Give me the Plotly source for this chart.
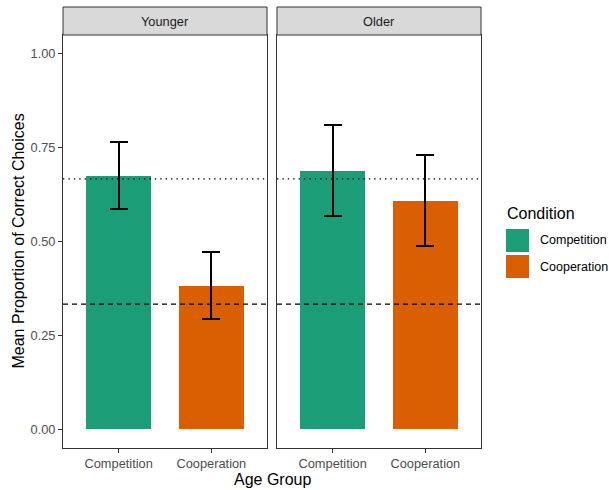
import plotly.graph_objects as go

# ---- data ----
groups = ["Younger", "Older"]
conditions = ["Competition", "Cooperation"]
younger_means = [0.675, 0.382]
younger_lower = [0.586, 0.293]
younger_upper = [0.766, 0.471]
older_means = [0.688, 0.609]
older_lower = [0.568, 0.489]
older_upper = [0.810, 0.731]
chance_dotted = 2 / 3
chance_dashed = 1 / 3
y_ticks = [0, 0.25, 0.5, 0.75, 1.0]
y_tick_labels = ["0.00", "0.25", "0.50", "0.75", "1.00"]
colors = {"Competition": "#1B9E77", "Cooperation": "#D95F02"}

W, H = 609, 490
ML, MR, MT, MB = 63, 128, 7, 42
PW = W - ML - MR
PH = H - MT - MB


def px_x(p):
    return (p - ML) / PW


def px_y(p):
    return (H - MB - p) / PH


panel_top = px_y(35)
dom1 = [0, px_x(267)]
dom2 = [px_x(277), 1]

FONT = "Liberation Sans, Arial, sans-serif"
fig = go.Figure()

data = {
    "Younger": (younger_means, younger_lower, younger_upper, "x", "y"),
    "Older": (older_means, older_lower, older_upper, "x2", "y2"),
}
for g in groups:
    m, lo, up, xa, ya = data[g]
    fig.add_trace(go.Bar(
        x=conditions, y=m, width=0.7,
        marker=dict(color=[colors[c] for c in conditions], line=dict(width=0)),
        error_y=dict(type="data", symmetric=False,
                     array=[u - v for u, v in zip(up, m)],
                     arrayminus=[v - l for v, l in zip(m, lo)],
                     thickness=2, width=9, color="black"),
        xaxis=xa, yaxis=ya, showlegend=False, hoverinfo="skip",
    ))

axis_common = dict(showgrid=False, zeroline=False, showline=True, mirror=True,
                   linecolor="#333333", linewidth=1)
xcommon = dict(axis_common, type="category", categoryorder="array",
               categoryarray=conditions, range=[-0.6, 1.6], ticks="outside",
               ticklen=4, tickcolor="#333333", tickwidth=1,
               tickfont=dict(family=FONT, size=12.8, color="#4D4D4D"))
ycommon = dict(axis_common, range=[-0.05, 1.05], domain=[0, panel_top])

fig.update_layout(
    width=W, height=H, margin=dict(l=ML, r=MR, t=MT, b=MB),
    paper_bgcolor="white", plot_bgcolor="white", bargap=0,
    xaxis=dict(xcommon, domain=dom1, anchor="y"),
    xaxis2=dict(xcommon, domain=dom2, anchor="y2"),
    yaxis=dict(ycommon, anchor="x", tickvals=y_ticks, ticktext=y_tick_labels,
               ticks="outside", ticklen=4, tickcolor="#333333",
               tickfont=dict(family=FONT, size=12.8, color="#4D4D4D")),
    yaxis2=dict(ycommon, anchor="x2", matches="y", showticklabels=False,
                ticks=""),
    font=dict(family=FONT),
)

shapes = []
annotations = []
for g, (xa, ya), dom in zip(groups, [("x", "y"), ("x2", "y2")], [dom1, dom2]):
    shapes.append(dict(type="line", xref=f"{xa} domain", yref=ya, x0=0, x1=1,
                       y0=chance_dotted, y1=chance_dotted, layer="above",
                       line=dict(color="black", width=1.4, dash="1.4px,4px")))
    shapes.append(dict(type="line", xref=f"{xa} domain", yref=ya, x0=0, x1=1,
                       y0=chance_dashed, y1=chance_dashed, layer="above",
                       line=dict(color="black", width=1.2, dash="5px,4px")))
    # strip
    shapes.append(dict(type="rect", xref="paper", yref="paper",
                       x0=dom[0], x1=dom[1], y0=panel_top, y1=1,
                       fillcolor="#D9D9D9", line=dict(color="#333333", width=1),
                       layer="above"))
    annotations.append(dict(text=g, xref="paper", yref="paper",
                            x=(dom[0] + dom[1]) / 2, y=(panel_top + 1) / 2,
                            xanchor="center", yanchor="middle", showarrow=False,
                            font=dict(family=FONT, size=12.8, color="#1A1A1A")))

# axis titles
annotations.append(dict(text="Age Group", xref="paper", yref="paper",
                        x=px_x(272), y=px_y(479), xanchor="center",
                        yanchor="middle", showarrow=False,
                        font=dict(family=FONT, size=16, color="black")))
annotations.append(dict(text="Mean Proportion of Correct Choices", xref="paper",
                        yref="paper", x=px_x(18), y=px_y(241.5),
                        xanchor="center", yanchor="middle", textangle=-90,
                        showarrow=False,
                        font=dict(family=FONT, size=16, color="black")))

# legend (drawn manually)
annotations.append(dict(text="Condition", xref="paper", yref="paper",
                        x=px_x(505), y=px_y(213), xanchor="left",
                        yanchor="middle", showarrow=False,
                        font=dict(family=FONT, size=16, color="black")))
key_tops = [229, 255]
for c, top in zip(conditions, key_tops):
    shapes.append(dict(type="rect", xref="paper", yref="paper",
                       x0=px_x(506), x1=px_x(529), y0=px_y(top + 23), y1=px_y(top),
                       fillcolor=colors[c], line=dict(width=0)))
    annotations.append(dict(text=c, xref="paper", yref="paper",
                            x=px_x(538), y=px_y(top + 11.5), xanchor="left",
                            yanchor="middle", showarrow=False,
                            font=dict(family=FONT, size=12.5, color="black")))

fig.update_layout(shapes=shapes, annotations=annotations)
fig.write_html("out.html", config={"displayModeBar": False},
               post_script="document.body.style.margin='0';"
                           "document.body.style.overflow='hidden';")
